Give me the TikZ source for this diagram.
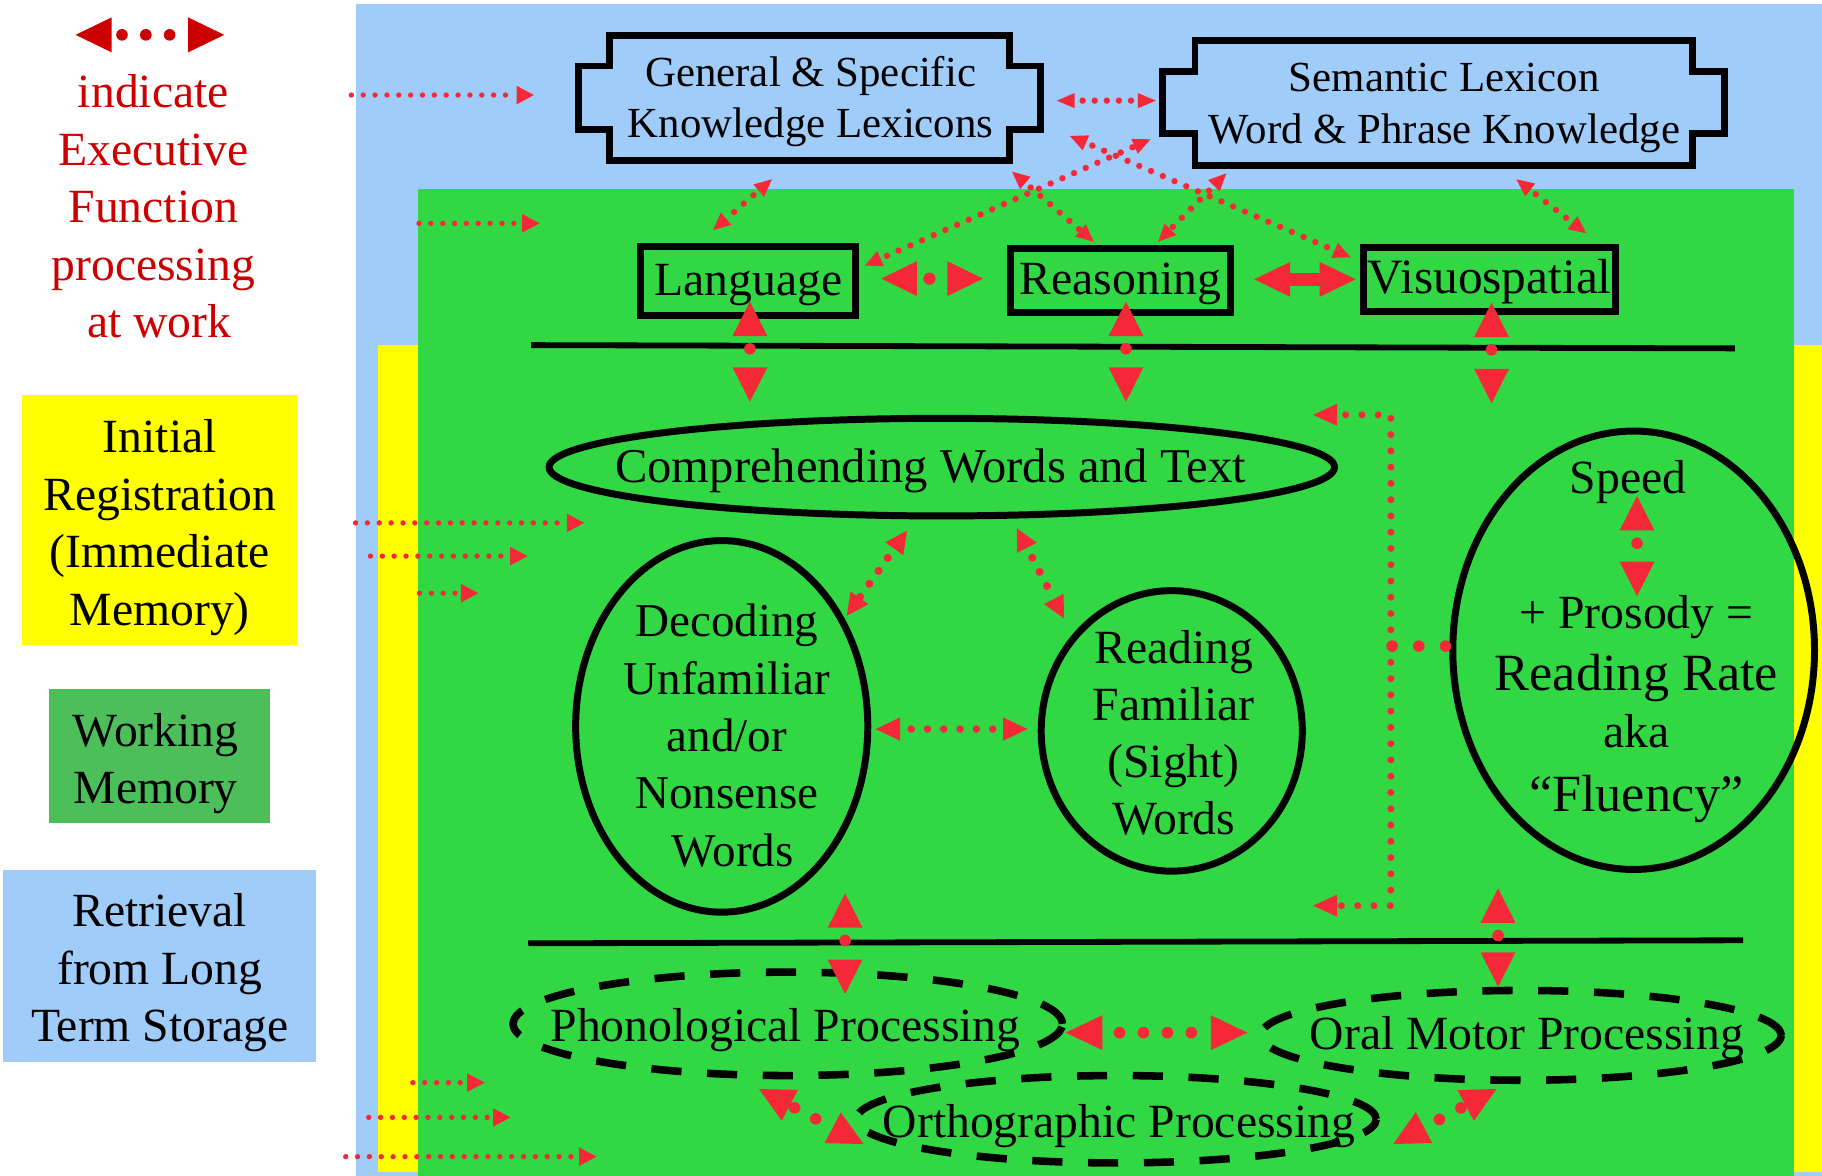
\documentclass[tikz,border=0pt]{standalone}
\usepackage{fontspec}
\setmainfont{Liberation Serif}
\usetikzlibrary{arrows.meta,shapes.geometric}

\definecolor{skyback}{RGB}{160,204,250}
\definecolor{wmgreen}{RGB}{50,215,68}
\definecolor{legendgreen}{RGB}{76,190,90}
\definecolor{regyellow}{RGB}{255,255,0}
\definecolor{linkred}{RGB}{245,40,56}
\definecolor{efred}{RGB}{204,0,0}

\tikzset{
  legendtext/.style={font=\fontsize{41pt}{49.5pt}\selectfont, align=center},
  lexframe/.style={draw=black, line width=6pt, line join=miter},
  lextext/.style={font=\fontsize{36.9pt}{44.3pt}\selectfont, align=center},
  facultybox/.style={draw=black, line width=6pt, inner sep=0pt,
    font=\fontsize{41pt}{49pt}\selectfont, text height=28pt, text depth=3pt},
  ring/.style={draw=black, line width=6pt, ellipse, inner sep=0pt},
  dashring/.style={draw=black, line width=6.5pt, ellipse, inner sep=0pt,
    dash pattern=on 26pt off 22pt},
  bodytext/.style={font=\fontsize{41pt}{49.4pt}\selectfont, align=center},
  redlink/.style={draw=linkred, line cap=round},
  dotrow/.style 2 args={dash pattern=on 0pt off #1, dash phase=#2},
  twoheads/.style 2 args={arrows={Triangle[length=#1,width=#2,line width=0pt]-Triangle[length=#1,width=#2,line width=0pt]}},
  onehead/.style 2 args={arrows={-Triangle[length=#1,width=#2,line width=0pt]}},
}

\begin{document}
\begin{tikzpicture}[x=1pt,y=-1pt]
\useasboundingbox (0,0) rectangle (1568,1012);

% ---------- background panels ----------
\fill[white] (0,0) rectangle (1568,1012);
\fill[skyback] (306,3.5) rectangle (1568,1012);
\fill[regyellow] (325,297) rectangle (1568,1008.5);
\fill[wmgreen] (360,163) rectangle (1544,1012);

% ---------- legend ----------
\coordinate (efL) at (65,30);
\coordinate (efR) at (193,30);
\draw[draw=efred, line cap=round, line width=10pt, dotrow={20.5pt}{11.5pt},
  twoheads={31pt}{30pt}] (efL) -- (efR);
\node[legendtext, text=efred] (eftext) at (132,177.5)
  {indicate\\Executive\\Function\\processing\\\ at work};

\fill[regyellow] (19,340) rectangle (256,555);
\node[legendtext] (irtext) at (137.5,453.9)
  {Initial\\Registration\\(Immediate\\Memory)};
\fill[legendgreen] (42,593) rectangle (232,708);
\node[legendtext] (wmtext) at (134,657) {Working\\Memory};
\fill[skyback] (3,749) rectangle (272,914);
\node[legendtext] (lttext) at (137.5,837.2) {Retrieval\\from Long\\Term Storage};

% ---------- lexicon frames ----------
\draw[lexframe] (524.6,30.7) -- (868.5,30.7) -- (868.5,56.8) -- (895.5,56.8)
  -- (895.5,111.6) -- (868.5,111.6) -- (868.5,138) -- (524.6,138)
  -- (524.6,111.6) -- (497.8,111.6) -- (497.8,56.8) -- (524.6,56.8) -- cycle;
\node[lextext] (genlex) at (697.7,87.5) {General \& Specific\\Knowledge Lexicons};

\draw[lexframe] (1028.4,34.9) -- (1456.5,34.9) -- (1456.5,61.7) -- (1484,61.7)
  -- (1484,115.3) -- (1456.5,115.3) -- (1456.5,142.6) -- (1028.4,142.6)
  -- (1028.4,115.3) -- (1000.7,115.3) -- (1000.7,61.7) -- (1028.4,61.7) -- cycle;
\node[lextext] (semlex) at (1243,93) {Semantic Lexicon\\Word \& Phrase Knowledge};

% ---------- faculty boxes ----------
\node[facultybox, minimum width=185pt, minimum height=59.1pt] (lang) at (644,241.85) {Language};
\node[facultybox, minimum width=189.6pt, minimum height=55.6pt] (reas) at (964.2,241.3) {Reasoning};
\node[facultybox, minimum width=216.5pt, minimum height=55pt,
  font=\fontsize{42.5pt}{49pt}\selectfont] (visu) at (1282,240.3) {Visuospatial};

% ---------- dividers ----------
\draw[line width=5pt] (457,297) -- (1493,299.8);
\draw[line width=5pt] (454.6,811.8) -- (1500.2,809.2);

% ---------- reading processes ----------
\node[ring, minimum width=676pt, minimum height=84pt] (compell) at (810.5,402) {};
\node[bodytext, anchor=base, font=\fontsize{41.8pt}{49.4pt}\selectfont] (comptext)
  at (800.9,415) {Comprehending Words and Text};

\node[ring, minimum width=251.4pt, minimum height=319.8pt] (decell) at (621.1,625.1) {};
\node[bodytext, font=\fontsize{40.5pt}{49.3pt}\selectfont] (dectext) at (625.5,633)
  {Decoding\\Unfamiliar\\and/or\\Nonsense\\\ Words};

\node[ring, minimum width=224.7pt, minimum height=241.4pt] (readell) at (1008.4,629) {};
\node[bodytext, font=\fontsize{41pt}{49.2pt}\selectfont] (readtext) at (1010,630.6)
  {Reading\\Familiar\\(Sight)\\Words};

\node[ring, minimum width=311.3pt, minimum height=377.3pt] (speedell) at (1405.9,559.6) {};
\node[bodytext, anchor=base] (speedtext) at (1401,424.5) {Speed};
\node[bodytext] (ratetext) at (1408.3,610.1)
  {+ Prosody =\\[4pt]{\fontsize{45pt}{50pt}\selectfont Reading Rate}\\aka\\[5pt]{\fontsize{45pt}{50pt}\selectfont “Fluency”}};

\node[dashring, minimum width=472.7pt, minimum height=89pt] (phonell) at (677.9,881.1) {};
\node[bodytext, anchor=base] (phontext) at (676,896) {Phonological Processing};
\node[dashring, minimum width=447.8pt, minimum height=77.3pt] (oralell) at (1308.9,891) {};
\node[bodytext, anchor=base] (oraltext) at (1314,903) {Oral Motor Processing};
\node[dashring, minimum width=447.3pt, minimum height=75.2pt] (orthell) at (960.7,963.2) {};
\node[bodytext, anchor=base] (orthtext) at (963,978.5) {Orthographic Processing};

% ---------- executive-function feed lines ----------
\foreach \k/\xs/\xe/\yy in {1/302.4/459.5/81.8, 2/360.6/464.4/192.2, 3/306/502.8/450,
    4/318.8/454/478.6, 5/361/411.7/510.5, 6/355.3/417.1/931.7,
    7/317.3/439.3/961.6, 8/297.5/513.4/995.4}{
  \coordinate (feed\k s) at (\xs,\yy);
  \coordinate (feed\k e) at (\xe,\yy);
  \draw[redlink, line width=4.6pt, dotrow={10.2pt}{0pt}, onehead={15pt}{16pt}]
    (feed\k s) -- (feed\k e);
}

% ---------- links between lexicons and faculties ----------
\coordinate (genR) at (909.4,86.6);   \coordinate (semL) at (994.7,86.6);
\coordinate (genB) at (664.3,154.3);  \coordinate (langT) at (613.6,198);
\coordinate (langR) at (744.1,228.6); \coordinate (semBL) at (990.1,119.9);
\coordinate (genBR) at (871,147.7);   \coordinate (reasTL) at (941.2,208);
\coordinate (semB) at (1055.3,149.2); \coordinate (reasTR) at (996.6,208);
\coordinate (genTab) at (920.8,117);  \coordinate (visuL) at (1162.3,221.4);
\coordinate (semBR) at (1305,154.3);  \coordinate (visuT) at (1365.1,200.8);

\draw[redlink, line width=5.5pt, dotrow={10.4pt}{3.5pt}, twoheads={15.4pt}{13pt}] (genR) -- (semL);
\foreach \p/\q in {genB/langT, langR/semBL, genBR/reasTL, semB/reasTR, genTab/visuL, semBR/visuT}{
  \draw[redlink, line width=5.5pt, dotrow={11pt}{5pt}, twoheads={15pt}{14pt}] (\p) -- (\q);
}

% ---------- heavy links ----------
\coordinate (langU) at (645.4,259.6);   \coordinate (langD) at (645.4,345.7);
\coordinate (reasU) at (969,259.6);     \coordinate (reasD) at (969,345.7);
\coordinate (visuU) at (1283.6,260.5);  \coordinate (visuD) at (1283.6,347);
\coordinate (decU) at (727.3,768.8);    \coordinate (decD) at (727.3,855.4);
\coordinate (speedU) at (1289.2,764.5); \coordinate (speedD) at (1289.2,849.1);
\coordinate (spdU) at (1408.8,426.9);   \coordinate (spdD) at (1408.8,512.9);
\foreach \p/\q in {langU/langD, reasU/reasD, visuU/visuD, decU/decD, speedU/speedD, spdU/spdD}{
  \draw[redlink, line width=10pt, dotrow={100pt}{89pt}, twoheads={29.6pt}{30pt}] (\p) -- (\q);
}

\coordinate (langE) at (758.4,239.8); \coordinate (reasW) at (846,239.8);
\draw[redlink, line width=10.5pt, dotrow={100pt}{89.2pt}, twoheads={30.7pt}{30pt}] (langE) -- (reasW);
\coordinate (reasE) at (1079.3,240.4); \coordinate (visuW) at (1166.7,240.4);
\draw[draw=linkred, line width=11pt, twoheads={31pt}{30pt}] (reasE) -- (visuW);

% ---------- links among word processes ----------
\coordinate (compSW) at (780.6,456.7); \coordinate (decNE) at (728.7,529.9);
\coordinate (compSE) at (875,454.6);   \coordinate (readNW) at (915.7,532.3);
\draw[redlink, line width=7pt, dotrow={13.7pt}{4pt}, twoheads={19pt}{19pt}] (compSW) -- (decNE);
\draw[redlink, line width=7pt, dotrow={13.7pt}{4pt}, twoheads={19pt}{19pt}] (compSE) -- (readNW);
\coordinate (decE) at (753.6,627.4); \coordinate (readW) at (884.3,627.4);
\draw[redlink, line width=6.5pt, dotrow={14pt}{4.4pt}, twoheads={21pt}{20pt}] (decE) -- (readW);

\coordinate (brS) at (1244,556);
\coordinate (brM) at (1197,556);
\coordinate (brTop) at (1130,357);
\coordinate (brBot) at (1130,779.4);
\draw[redlink, line width=10pt, dotrow={23pt}{0pt}] (brS) -- (brM);
\draw[redlink, line width=6pt, dotrow={14pt}{0pt}, onehead={20.7pt}{19pt}] (brM) |- (brTop);
\draw[redlink, line width=6pt, dotrow={14pt}{0pt}, onehead={20.7pt}{19pt}] (brM) |- (brBot);

\coordinate (phonE) at (917,888.7);     \coordinate (oralW) at (1073.6,888.7);
\draw[redlink, line width=10pt, dotrow={20.6pt}{5.8pt}, twoheads={31.6pt}{30pt}] (phonE) -- (oralW);
\coordinate (phonSE) at (653.2,937.2);  \coordinate (orthW) at (743.1,984.5);
\draw[redlink, line width=10pt, dotrow={20.5pt}{15.9pt}, twoheads={30pt}{30pt}] (phonSE) -- (orthW);
\coordinate (orthE) at (1199,984.5);    \coordinate (oralSW) at (1287.8,937.2);
\draw[redlink, line width=10pt, dotrow={21pt}{6pt}, twoheads={30pt}{30pt}] (orthE) -- (oralSW);

\end{tikzpicture}
\end{document}
